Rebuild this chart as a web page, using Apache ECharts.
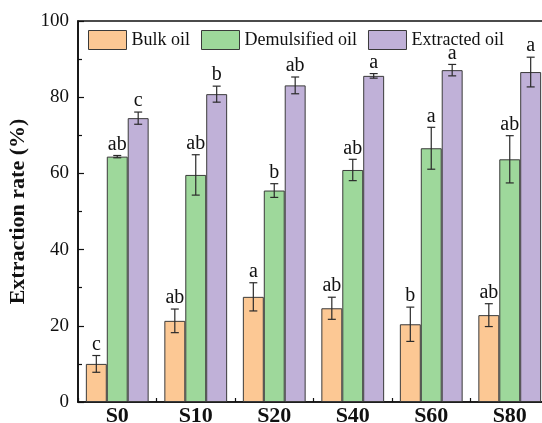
<!DOCTYPE html>
<html>
<head>
<meta charset="utf-8">
<script src="https://cdn.jsdelivr.net/npm/echarts@6/dist/echarts.min.js"></script>
<style>
  html, body { margin: 0; padding: 0; background: #fff; }
  #chart { width: 542px; height: 423px; }
</style>
</head>
<body>
<div id="chart"></div>
<script>
// Samples along the x axis
const categories = ['S0', 'S10', 'S20', 'S40', 'S60', 'S80'];

// Mean extraction rate (%) and standard deviation for each oil fraction
const bulkOil = [10.0, 21.3, 27.6, 24.6, 20.4, 22.8];
const bulkOilSd = [2.2, 3.1, 3.7, 2.9, 4.5, 3.0];
const bulkOilLetters = ['c', 'ab', 'a', 'ab', 'b', 'ab'];

const demulsifiedOil = [64.4, 59.6, 55.5, 60.9, 66.6, 63.7];
const demulsifiedOilSd = [0.3, 5.3, 1.8, 2.8, 5.5, 6.2];
const demulsifiedOilLetters = ['ab', 'ab', 'b', 'ab', 'a', 'ab'];

const extractedOil = [74.5, 80.8, 83.1, 85.6, 87.1, 86.6];
const extractedOilSd = [1.6, 2.1, 2.2, 0.6, 1.5, 3.9];
const extractedOilLetters = ['c', 'b', 'ab', 'a', 'a', 'a'];

// Y-axis tick labels
const yTicks = [0, 20, 40, 60, 80, 100];

const seriesNames = ['Bulk oil', 'Demulsified oil', 'Extracted oil'];
const colors = ['#FCC894', '#9ED89B', '#C0B1D8'];
const serif = "'Liberation Serif', 'Times New Roman', serif";
const groupFill = 0.8; // share of a category band covered by its three bars

const chart = echarts.init(document.getElementById('chart'), null, { renderer: 'canvas' });

function errorSeries(k, means, sds, letters) {
  return {
    type: 'custom',
    name: seriesNames[k] + ' error',
    xAxisIndex: 0,
    yAxisIndex: 0,
    z: 5,
    clip: false,
    silent: true,
    legendHoverLink: false,
    encode: { x: 0, y: 1 },
    data: means.map((m, i) => [i, m, sds[i]]),
    renderItem(params, api) {
      const i = api.value(0);
      const m = api.value(1);
      const sd = api.value(2);
      const letter = letters[params.dataIndex];
      const bw = api.size([1, 0])[0] * groupFill / 3;
      const off = (k - 1) * bw;
      const hi = api.coord([i, m + sd]);
      const lo = api.coord([i, m - sd]);
      const x = hi[0] + off;
      const cap = 4;
      const stroke = { stroke: '#2a2a2a', lineWidth: 1.2 };
      return {
        type: 'group',
        children: [
          { type: 'line', shape: { x1: x, y1: hi[1], x2: x, y2: lo[1] }, style: stroke },
          { type: 'line', shape: { x1: x - cap, y1: hi[1], x2: x + cap, y2: hi[1] }, style: stroke },
          { type: 'line', shape: { x1: x - cap, y1: lo[1], x2: x + cap, y2: lo[1] }, style: stroke },
          {
            type: 'text',
            style: {
              x: x, y: hi[1] - 1,
              text: letter,
              fill: '#111',
              fontFamily: serif,
              fontSize: 20,
              align: 'center',
              verticalAlign: 'bottom'
            }
          }
        ]
      };
    }
  };
}

function barSeries(k, values) {
  return {
    type: 'bar',
    name: seriesNames[k],
    xAxisIndex: 0,
    yAxisIndex: 0,
    data: values,
    barGap: '0%',
    barCategoryGap: '20%',
    itemStyle: { color: colors[k], borderColor: '#3a3a3a', borderWidth: 1 }
  };
}

const option = {
  animation: false,
  backgroundColor: '#fff',
  textStyle: { fontFamily: serif },
  grid: {
    left: 78, top: 21, width: 471, height: 381,
    containLabel: false,
    outerBoundsMode: 'none',
    show: true, borderColor: '#111', borderWidth: 1.6, backgroundColor: 'transparent'
  },
  legend: {
    data: seriesNames,
    left: 83, top: 25,
    itemWidth: 38, itemHeight: 19, itemGap: 11,
    icon: 'rect',
    itemStyle: { borderColor: '#3a3a3a', borderWidth: 1 },
    textStyle: { fontFamily: serif, fontSize: 18, color: '#111' }
  },
  xAxis: [
    {
      type: 'category',
      data: categories,
      axisLine: { lineStyle: { color: '#111', width: 1.6 } },
      axisTick: { show: true, inside: true, alignWithLabel: true, length: 5, lineStyle: { color: '#111', width: 1.2 } },
      axisLabel: { fontFamily: serif, fontSize: 22, fontWeight: 'bold', color: '#111', margin: 3 }
    },
    {
      // boundary ticks between samples
      type: 'category',
      data: categories,
      position: 'bottom',
      axisLine: { show: false },
      axisTick: { show: true, inside: true, length: 4, lineStyle: { color: '#111', width: 1.2 } },
      axisLabel: { show: false }
    }
  ],
  yAxis: {
    type: 'value',
    min: yTicks[0], max: yTicks[yTicks.length - 1], interval: 20,
    name: 'Extraction rate (%)',
    nameLocation: 'middle',
    nameGap: 41,
    nameTextStyle: { fontFamily: serif, fontSize: 22, fontWeight: 'bold', color: '#111' },
    axisLine: { show: true, lineStyle: { color: '#111', width: 1.6 } },
    axisTick: { show: true, inside: true, length: 6, lineStyle: { color: '#111', width: 1.2 } },
    minorTick: { show: true, splitNumber: 2, length: 4, lineStyle: { color: '#111', width: 1.2 } },
    splitLine: { show: false },
    axisLabel: { fontFamily: serif, fontSize: 19, color: '#111', margin: 9 }
  },
  series: [
    barSeries(0, bulkOil),
    barSeries(1, demulsifiedOil),
    barSeries(2, extractedOil),
    errorSeries(0, bulkOil, bulkOilSd, bulkOilLetters),
    errorSeries(1, demulsifiedOil, demulsifiedOilSd, demulsifiedOilLetters),
    errorSeries(2, extractedOil, extractedOilSd, extractedOilLetters)
  ]
};

chart.setOption(option);
</script>
</body>
</html>
